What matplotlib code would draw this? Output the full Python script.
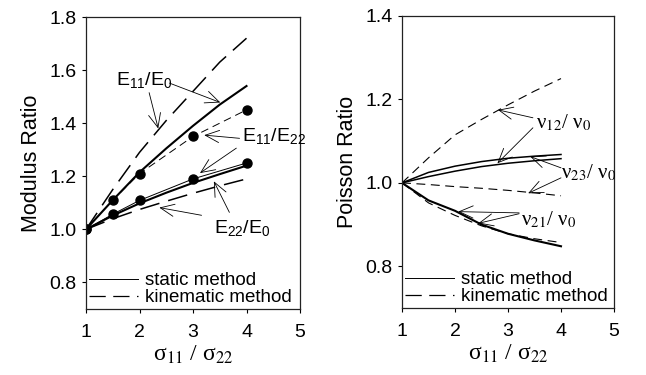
import matplotlib
matplotlib.use("Agg")
import matplotlib.pyplot as plt
from matplotlib.lines import Line2D

plt.rcParams['font.family'] = ['Liberation Sans', 'DejaVu Sans']
plt.rcParams['mathtext.fontset'] = 'custom'
plt.rcParams['mathtext.rm'] = 'Liberation Sans'
plt.rcParams['mathtext.it'] = 'Liberation Sans:italic'
plt.rcParams['mathtext.bf'] = 'Liberation Sans:bold'

# ---- data -------------------------------------------------------------
ratio_pts = [1, 1.5, 2, 3, 4]
e11_e22_pts = [1.00, 1.11, 1.21, 1.35, 1.45]
e22_pts = [1.00, 1.057, 1.109, 1.19, 1.25]

ratio = [1, 1.5, 2, 2.5, 3, 3.5, 4]
e11_e0_static = [1.00, 1.11, 1.215, 1.305, 1.39, 1.47, 1.54]
e11_e0_kinematic = [1.00, 1.15, 1.29, 1.41, 1.52, 1.63, 1.72]
e22_e0_static = [1.00, 1.052, 1.098, 1.138, 1.175, 1.208, 1.24]
e22_e0_kinematic = [1.00, 1.04, 1.075, 1.106, 1.136, 1.164, 1.19]

nu12_kinematic = [1.00, 1.06, 1.115, 1.152, 1.187, 1.22, 1.25]
nu12_static = [1.00, 1.025, 1.04, 1.051, 1.059, 1.064, 1.068]
nu23_static = [1.00, 1.015, 1.028, 1.039, 1.047, 1.053, 1.058]
nu23_kinematic = [1.00, 0.996, 0.991, 0.987, 0.982, 0.976, 0.969]
nu21_static = [1.00, 0.958, 0.933, 0.900, 0.878, 0.862, 0.848]
nu21_kinematic = [1.00, 0.952, 0.922, 0.897, 0.878, 0.866, 0.857]

xticks = [1, 2, 3, 4, 5]
modulus_ticks = [0.8, 1.0, 1.2, 1.4, 1.6, 1.8]
poisson_ticks = [0.8, 1.0, 1.2, 1.4]

# ---- styles -----------------------------------------------------------
K = 'black'
LONG_DASH = (0, (13, 6))
SHORT_DASH = (0, (8, 5))
arrow = dict(arrowstyle='->,head_length=0.5,head_width=0.22', lw=0.6,
             color=K, mutation_scale=20, shrinkA=0, shrinkB=0)
serif_kw = dict(family='Liberation Serif', math_fontfamily='stix')

fig = plt.figure(figsize=(6.46, 3.75), dpi=100)
ax1 = fig.add_axes([86 / 646, 66 / 375, 214 / 646, 292 / 375])
ax2 = fig.add_axes([402 / 646, 67 / 375, 212 / 646, 292 / 375])


def style_axes(ax, yticks, ylim, ylabel):
    ax.set_xlim(1, 5)
    ax.set_ylim(*ylim)
    ax.set_xticks(xticks)
    ax.set_yticks(yticks)
    ax.set_yticklabels([f'{v:.1f}' for v in yticks])
    ax.tick_params(direction='out', length=3, width=0.8, labelsize=14,
                   colors=K)
    ax.tick_params(axis='x', pad=8)
    ax.tick_params(axis='y', pad=4)
    for sp in ax.spines.values():
        sp.set_linewidth(0.9)
        sp.set_color('#222222')
    ax.set_ylabel(ylabel, fontsize=15.5, labelpad=5)
    ax.set_xlabel('σ$_{11}$ / σ$_{22}$', fontsize=17, labelpad=2,
                  **serif_kw)
    handles = [Line2D([], [], color=K, lw=0.7),
               Line2D([], [], color=K, lw=0.9, linestyle=LONG_DASH)]
    ax.legend(handles, ['static method', 'kinematic method'],
              loc='lower left', frameon=False, fontsize=13.5,
              handlelength=2.6, handletextpad=0.4, labelspacing=0.0,
              borderpad=0.15, borderaxespad=0.0)


# ---- Modulus ratio ----------------------------------------------------
ax1.plot(ratio, e11_e0_kinematic, color=K, lw=1.1, linestyle=LONG_DASH)
ax1.plot(ratio, e11_e0_static, color=K, lw=1.5)
ax1.plot(ratio_pts, e11_e22_pts, color=K, lw=0.7, linestyle=SHORT_DASH,
         marker='o', markersize=6.5)
ax1.plot(ratio_pts, e22_pts, color=K, lw=0.7, marker='o', markersize=6.5)
ax1.plot(ratio, e22_e0_static, color=K, lw=1.5)
ax1.plot(ratio, e22_e0_kinematic, color=K, lw=1.1, linestyle=LONG_DASH)

ax1.text(1.56, 1.562, r'E$_{11}$/E$_0$', fontsize=14, ha='left',
         va='center')
ax1.annotate('', xy=(2.35, 1.38), xytext=(2.18, 1.515), arrowprops=arrow)
ax1.annotate('', xy=(3.51, 1.478), xytext=(2.56, 1.551), arrowprops=arrow)

ax1.text(3.91, 1.351, r'E$_{11}$/E$_{22}$', fontsize=14, ha='left',
         va='center')
ax1.annotate('', xy=(3.21, 1.355), xytext=(3.87, 1.343), arrowprops=arrow)
ax1.annotate('', xy=(3.13, 1.212), xytext=(3.81, 1.306), arrowprops=arrow)

ax1.text(3.40, 1.004, r'E$_{22}$/E$_0$', fontsize=14, ha='left',
         va='center')
ax1.annotate('', xy=(3.39, 1.181), xytext=(3.68, 1.064), arrowprops=arrow)
ax1.annotate('', xy=(2.37, 1.082), xytext=(3.16, 1.053), arrowprops=arrow)

style_axes(ax1, modulus_ticks, (0.7, 1.8), 'Modulus Ratio')

# ---- Poisson ratio ----------------------------------------------------
ax2.plot(ratio, nu12_kinematic, color=K, lw=0.8, linestyle=SHORT_DASH)
ax2.plot(ratio, nu12_static, color=K, lw=1.1)
ax2.plot(ratio, nu23_static, color=K, lw=1.1)
ax2.plot(ratio, nu23_kinematic, color=K, lw=0.8, linestyle=SHORT_DASH)
ax2.plot(ratio, nu21_static, color=K, lw=1.5)
ax2.plot(ratio, nu21_kinematic, color=K, lw=0.8, linestyle=SHORT_DASH)

nu_kw = dict(fontsize=15, ha='left', va='center', **serif_kw)
ax2.text(3.53, 1.144, 'ν$_{12}$/ ν$_0$', **nu_kw)
ax2.annotate('', xy=(2.81, 1.175), xytext=(3.47, 1.156), arrowprops=arrow)
ax2.annotate('', xy=(2.80, 1.047), xytext=(3.47, 1.132), arrowprops=arrow)

ax2.text(4.0, 1.024, 'ν$_{23}$/ ν$_0$', **nu_kw)
ax2.annotate('', xy=(3.42, 1.063), xytext=(4.0, 1.036), arrowprops=arrow)
ax2.annotate('', xy=(3.38, 0.975), xytext=(4.0, 1.012), arrowprops=arrow)

ax2.text(3.25, 0.911, 'ν$_{21}$/ ν$_0$', **nu_kw)
ax2.annotate('', xy=(2.06, 0.931), xytext=(3.21, 0.928), arrowprops=arrow)
ax2.annotate('', xy=(2.44, 0.903), xytext=(3.21, 0.926), arrowprops=arrow)

style_axes(ax2, poisson_ticks, (0.7, 1.4), 'Poisson Ratio')

fig.savefig('out.png', dpi=100)
